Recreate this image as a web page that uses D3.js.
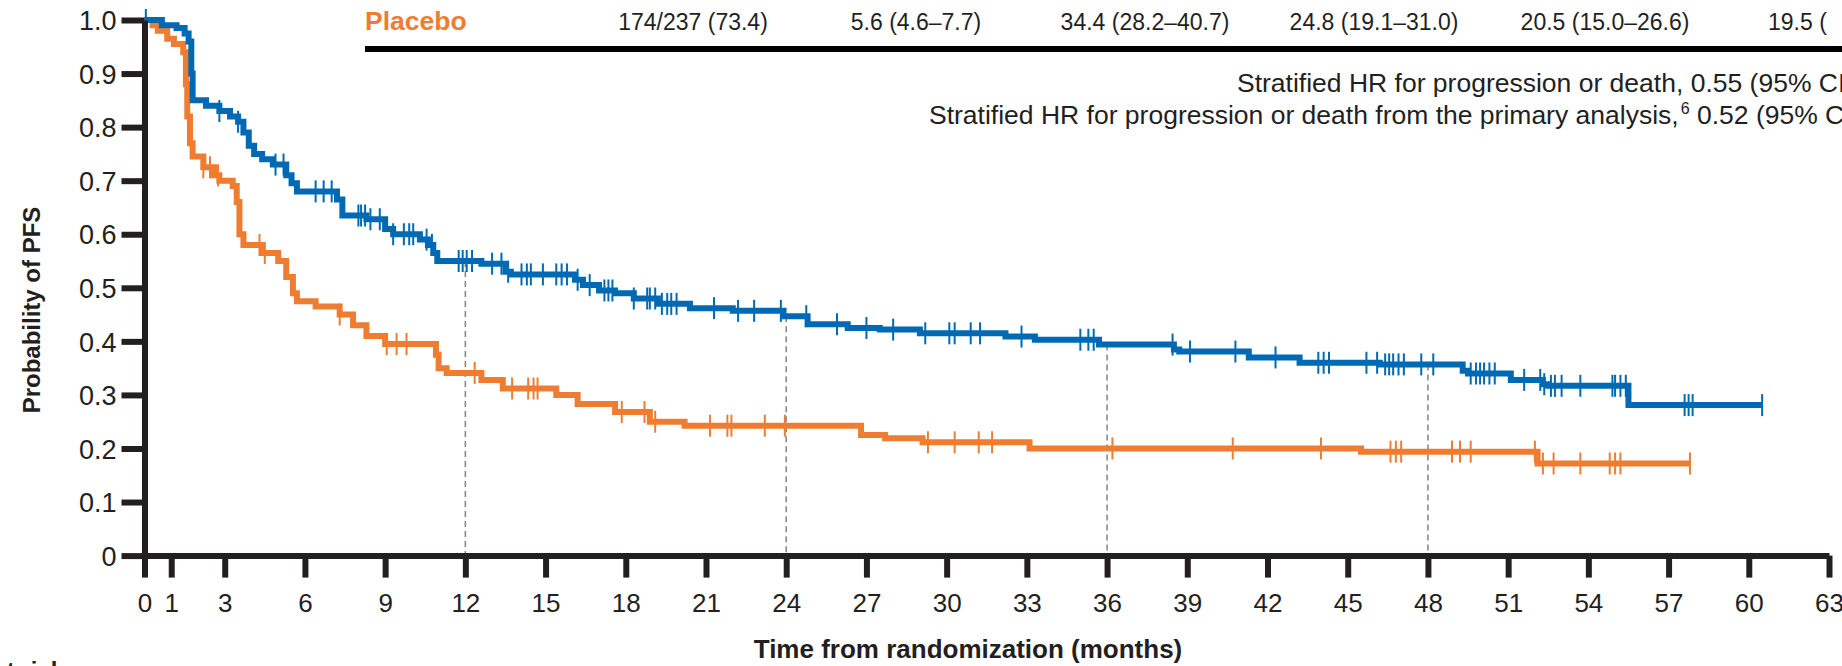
<!DOCTYPE html>
<html>
<head>
<meta charset="utf-8">
<script src="https://cdn.jsdelivr.net/npm/d3@7"></script>
<style>
  body { margin: 0; background: #fff; }
  svg { display: block; }
</style>
</head>
<body>
<script>
var w = 1842;
var h = 666;

// ---- data ----
var xTicks = [0, 1, 3, 6, 9, 12, 15, 18, 21, 24, 27, 30, 33, 36, 39, 42, 45, 48, 51, 54, 57, 60, 63];
var yTicks = [0, 0.1, 0.2, 0.3, 0.4, 0.5, 0.6, 0.7, 0.8, 0.9, 1.0];
var landmarks = [12, 24, 36, 48];

// treatment arm (blue): step times and survival after each step
var blueTimes = [0, 0.65, 1.2, 1.5, 1.65, 1.75, 1.8, 2.3, 2.8, 3.2, 3.5, 3.7, 3.9, 4.1, 4.4, 4.8, 5.3, 5.5, 5.7,
  7.2, 7.4, 8.3, 9.0, 9.3, 10.3, 10.6, 10.8, 10.95, 12.6, 13.5, 13.7, 16.1, 16.4, 17.0, 17.6, 18.3, 19.2,
  20.4, 22.0, 23.9, 24.8, 26.3, 27.5, 29.0, 32.2, 33.3, 35.7, 38.5, 38.7, 41.3, 43.2, 46.2, 49.3, 49.5,
  51.1, 52.3, 52.5, 55.5];
var blueSurv = [1.0, 0.99, 0.985, 0.975, 0.96, 0.90, 0.85, 0.84, 0.83, 0.82, 0.81, 0.79, 0.765, 0.75, 0.74, 0.73, 0.71, 0.695, 0.68,
  0.665, 0.635, 0.628, 0.61, 0.60, 0.59, 0.58, 0.565, 0.55, 0.545, 0.53, 0.525, 0.515, 0.505, 0.495, 0.49, 0.48, 0.47,
  0.462, 0.457, 0.447, 0.432, 0.425, 0.422, 0.415, 0.409, 0.403, 0.394, 0.385, 0.381, 0.370, 0.360, 0.357, 0.345, 0.340,
  0.328, 0.320, 0.317, 0.281];
var blueEnd = 60.5;
var blueCensor = [0.05, 2.8, 3.5, 4.9, 5.2, 6.4, 6.7, 7.0, 8.0, 8.1, 8.25, 8.45, 8.8, 9.3, 9.7, 9.9, 10.05, 10.55, 10.75,
  11.75, 11.9, 12.05, 12.25, 13.0, 13.35, 13.6, 14.1, 14.3, 14.45, 14.9, 15.4, 15.6, 15.8, 16.2, 16.65, 17.2, 17.35, 17.5,
  18.3, 18.8, 18.9, 19.1, 19.35, 19.55, 19.7, 19.9, 21.3, 22.2, 22.8, 23.8, 24.75, 25.9, 27.0, 28.0, 29.2, 30.1, 30.3,
  30.9, 31.25, 32.8, 35.0, 35.3, 35.5, 38.45, 39.1, 40.8, 42.3, 43.9, 44.1, 44.3, 45.7, 46.1, 46.4, 46.55, 46.7, 46.9,
  47.1, 47.75, 48.2, 49.6, 49.8, 49.95, 50.1, 50.3, 50.5, 51.6, 52.2, 52.35, 52.6, 52.75, 53.0, 53.7, 54.9, 55.0, 55.2,
  55.4, 57.6, 57.75, 57.9, 60.5];

// placebo arm (orange)
var orangeTimes = [0, 0.3, 0.5, 0.85, 1.1, 1.45, 1.55, 1.6, 1.7, 1.8, 2.2, 2.6, 2.8, 3.3, 3.45, 3.55, 3.7, 4.4, 5.0,
  5.3, 5.55, 5.7, 6.4, 7.3, 7.8, 8.3, 9.0, 10.9, 11.0, 11.3, 12.6, 13.4, 15.4, 16.2, 17.6, 18.9, 20.2, 26.8, 27.7,
  29.1, 33.1, 45.5, 52.1];
var orangeSurv = [1.0, 0.99, 0.98, 0.965, 0.955, 0.94, 0.88, 0.82, 0.77, 0.745, 0.725, 0.71, 0.70, 0.69, 0.66, 0.60, 0.58, 0.565, 0.55,
  0.52, 0.49, 0.475, 0.465, 0.45, 0.43, 0.41, 0.395, 0.375, 0.35, 0.341, 0.328, 0.312, 0.30, 0.283, 0.268, 0.25, 0.2425, 0.225, 0.219,
  0.2115, 0.20, 0.194, 0.172];
var orangeEnd = 57.8;
var orangeCensor = [2.2, 2.45, 2.75, 4.3, 4.5, 7.3, 9.06, 9.43, 9.8, 12.35, 13.75, 14.35, 14.55, 14.7, 17.85, 18.7, 19.1,
  21.15, 21.8, 21.95, 23.2, 23.95, 29.3, 30.3, 31.2, 31.7, 36.2, 40.7, 44.0, 46.6, 46.8, 47.0, 48.9, 49.2, 49.6,
  52.0, 52.3, 52.7, 53.7, 54.8, 55.0, 55.2, 57.8];

// header row (placebo) and HR text
var headerValues = ["174/237 (73.4)", "5.6 (4.6\u20137.7)", "34.4 (28.2\u201340.7)", "24.8 (19.1\u201331.0)", "20.5 (15.0\u201326.6)"];
var headerCenters = [693, 916, 1145, 1374, 1605];

var blueColor = "#0069b4";
var orangeColor = "#ee7d31";
var axisColor = "#231f20";
var fontMain = "'Liberation Sans', Arial, sans-serif";

var svg;
drawContent();

function survAt(times, surv, t) {
    var i = d3.bisectRight(times, t) - 1;
    return surv[Math.max(0, i)];
}

function drawContent() {
    svg = d3.select("body")
        .append("svg")
        .attr("width", w)
        .attr("height", h);

    var x = d3.scaleLinear().domain([0, 63]).range([144.5, 1829]);
    var y = d3.scaleLinear().domain([0, 1]).range([555.6, 20]);

    //---landmark dashed lines-----
    svg.selectAll(".landmark")
        .data(landmarks)
        .enter()
        .append("line")
        .attr("x1", function (d) { return x(d); })
        .attr("x2", function (d) { return x(d); })
        .attr("y1", function (d) { return y(survAt(blueTimes, blueSurv, d)); })
        .attr("y2", y(0))
        .attr("stroke", "#8a8a8a")
        .attr("stroke-width", 1.6)
        .attr("stroke-dasharray", "6,4");

    //---curves-----
    var line = d3.line()
        .x(function (d) { return x(d[0]); })
        .y(function (d) { return y(d[1]); })
        .curve(d3.curveStepAfter);

    var arms = [
        { times: orangeTimes, surv: orangeSurv, end: orangeEnd, censor: orangeCensor, color: orangeColor },
        { times: blueTimes, surv: blueSurv, end: blueEnd, censor: blueCensor, color: blueColor }
    ];

    arms.forEach(function (arm) {
        var pts = arm.times.map(function (t, i) { return [t, arm.surv[i]]; });
        pts.push([arm.end, arm.surv[arm.surv.length - 1]]);

        svg.append("path")
            .attr("d", line(pts))
            .attr("fill", "none")
            .attr("stroke", arm.color)
            .attr("stroke-width", 6)
            .attr("stroke-linejoin", "miter");

        svg.append("g")
            .selectAll("line")
            .data(arm.censor)
            .enter()
            .append("line")
            .attr("x1", function (d) { return x(d); })
            .attr("x2", function (d) { return x(d); })
            .attr("y1", function (d) { return y(survAt(arm.times, arm.surv, d)) - 11; })
            .attr("y2", function (d) { return y(survAt(arm.times, arm.surv, d)) + 11; })
            .attr("stroke", arm.color)
            .attr("stroke-width", 2);
    });

    //---axes-----
    var yAxis = svg.append("g")
        .attr("transform", "translate(" + x(0) + ",0)")
        .call(d3.axisLeft(y).tickValues(yTicks).tickSize(23).tickSizeOuter(0)
            .tickFormat(function (d) { return d === 0 ? "0" : d3.format(".1f")(d); }));
    yAxis.select(".domain").attr("stroke", axisColor).attr("stroke-width", 6);
    yAxis.selectAll(".tick line").attr("stroke", axisColor).attr("stroke-width", 6);
    yAxis.selectAll(".tick text")
        .attr("x", -28)
        .attr("dy", "0.36em")
        .attr("font-size", 27)
        .attr("font-family", fontMain)
        .attr("fill", axisColor);

    var xAxis = svg.append("g")
        .attr("transform", "translate(0," + y(0) + ")")
        .call(d3.axisBottom(x).tickValues(xTicks).tickSize(22).tickSizeOuter(0).tickFormat(d3.format("d")));
    xAxis.select(".domain").attr("stroke", axisColor).attr("stroke-width", 6);
    xAxis.selectAll(".tick line").attr("stroke", axisColor).attr("stroke-width", 6);
    xAxis.selectAll(".tick text")
        .attr("y", 38)
        .attr("dy", "0.71em")
        .attr("font-size", 26)
        .attr("font-family", fontMain)
        .attr("fill", axisColor);

    //-----axis titles------
    svg.append("text")
        .text("Probability of PFS")
        .attr("transform", "translate(40,310) rotate(-90)")
        .attr("text-anchor", "middle")
        .attr("font-size", 24)
        .attr("font-weight", "bold")
        .attr("font-family", fontMain)
        .attr("fill", axisColor);

    svg.append("text")
        .text("Time from randomization (months)")
        .attr("x", 968)
        .attr("y", 658)
        .attr("text-anchor", "middle")
        .attr("font-size", 26)
        .attr("font-weight", "bold")
        .attr("font-family", fontMain)
        .attr("fill", axisColor);

    svg.append("text")
        .text("No. at risk")
        .attr("x", 64)
        .attr("y", 679)
        .attr("text-anchor", "end")
        .attr("font-size", 24)
        .attr("font-weight", "bold")
        .attr("font-family", fontMain)
        .attr("fill", axisColor);

    //-----header table row------
    svg.append("text")
        .text("Placebo")
        .attr("x", 365)
        .attr("y", 30)
        .attr("font-size", 26.5)
        .attr("font-weight", "bold")
        .attr("font-family", fontMain)
        .attr("fill", orangeColor);

    svg.selectAll(".hdr")
        .data(headerValues)
        .enter()
        .append("text")
        .text(function (d) { return d; })
        .attr("x", function (d, i) { return headerCenters[i]; })
        .attr("y", 30)
        .attr("text-anchor", "middle")
        .attr("font-size", 23)
        .attr("font-family", fontMain)
        .attr("fill", axisColor);

    svg.append("text")
        .text("19.5 (")
        .attr("x", 1768)
        .attr("y", 30)
        .attr("font-size", 23)
        .attr("font-family", fontMain)
        .attr("fill", axisColor);

    svg.append("line")
        .attr("x1", 365)
        .attr("x2", w)
        .attr("y1", 49)
        .attr("y2", 49)
        .attr("stroke", "#000")
        .attr("stroke-width", 6);

    svg.append("text")
        .text("Stratified HR for progression or death, 0.55 (95% CI")
        .attr("x", 1237)
        .attr("y", 92)
        .attr("font-size", 26.5)
        .attr("font-family", fontMain)
        .attr("fill", axisColor);

    var hr2 = svg.append("text")
        .attr("x", 929)
        .attr("y", 124)
        .attr("font-size", 26.5)
        .attr("font-family", fontMain)
        .attr("fill", axisColor);
    hr2.append("tspan").text("Stratified HR for progression or death from the primary analysis,");
    hr2.append("tspan").text("6").attr("font-size", 16).attr("dy", -10).attr("dx", 2);
    hr2.append("tspan").text(" 0.52 (95% CI").attr("dy", 10);
}
</script>
</body>
</html>
